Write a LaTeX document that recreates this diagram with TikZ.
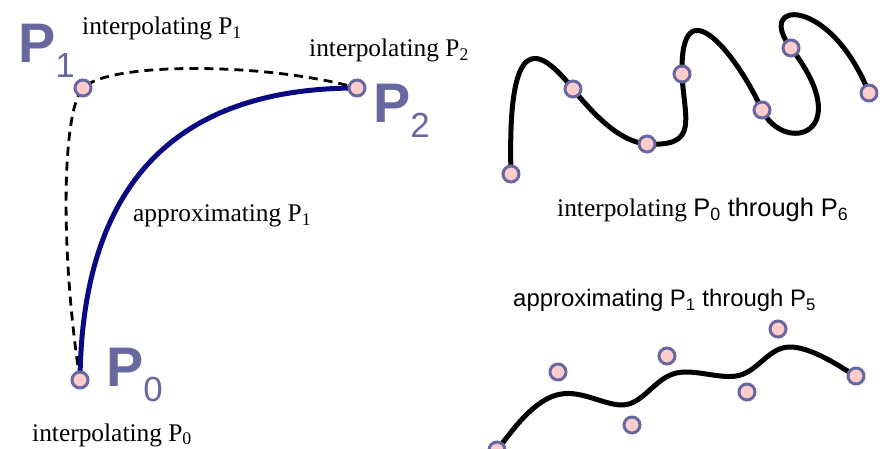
\documentclass[tikz,border=0pt]{standalone}
\usepackage{fontspec}
\setmainfont{Liberation Serif}
\setsansfont{Liberation Sans}
\usetikzlibrary{calc}

\definecolor{slate}{RGB}{104,104,160}
\definecolor{dotpink}{RGB}{255,204,204}
\definecolor{navy}{RGB}{10,10,130}

\newcommand{\bigP}[1]{{\fontsize{56}{56}\selectfont\bfseries P}{\fontsize{35}{35}\selectfont\raisebox{-15bp}{#1}}}

\tikzset{
  dot/.style={circle, draw=slate, fill=dotpink, line width=3bp, minimum size=16bp, inner sep=0pt},
  txt/.style={anchor=base west, inner sep=0pt, font=\fontsize{25.5}{25.5}\selectfont},
  stxt/.style={txt, font=\sffamily\fontsize{24}{24}\selectfont},
  biglbl/.style={anchor=base west, inner sep=0pt, text=slate, font=\sffamily},
  curve/.style={line width=5bp, line cap=round},
}

\begin{document}
\begin{tikzpicture}[x=1bp,y=-1bp]
  \useasboundingbox (0,0) rectangle (885,449);
  % left: three points, dashed through them, blue towards the middle one
  \coordinate (a0) at (80,380);
  \coordinate (a1) at (83,88);
  \coordinate (a2) at (357,88);
  \draw[line width=2.8bp, dash pattern=on 9bp off 6bp] (a0) .. controls (60,250) and (62,110) .. (a1)
    .. controls (110,61) and (270,63) .. (a2);
  \draw[curve, navy] (a0) .. controls ($(a0)!2/3!(a1)$) and ($(a2)!2/3!(a1)$) .. (a2);
  \foreach \i in {0,1,2} \node[dot] (p\i) at (a\i) {};
  \node[biglbl] (n1) at (18,63) {\bigP{1}};
  \node[biglbl] (n2) at (373,123) {\bigP{2}};
  \node[biglbl] (n0) at (106,387) {\bigP{0}};
  \node[txt] (t1) at (82,35) {interpolating P\textsubscript{1}};
  \node[txt] (t2) at (309,57) {interpolating P\textsubscript{2}};
  \node[txt] (t0) at (32,441) {interpolating P\textsubscript{0}};
  \node[txt] (t3) at (133,222) {approximating P\textsubscript{1}};

  % top right: interpolating curve
  \coordinate (b0) at (511,174);
  \coordinate (b1) at (573,89);
  \coordinate (b2) at (647,144);
  \coordinate (b3) at (682,74);
  \coordinate (b4) at (762,110);
  \coordinate (b5) at (791,48);
  \coordinate (b6) at (869,93);
  \draw[curve] (b0) .. controls (507,30) and (538,45) .. (b1)
    .. controls (594,115) and (620,142) .. (b2)
    .. controls (700,147) and (684,119) .. (b3)
    .. controls (680,-20) and (740,60) .. (b4)
    .. controls (784,155) and (858,135) .. (b5)
    .. controls (754,0) and (830,-5) .. (b6);
  \foreach \i in {0,...,6} \node[dot] (q\i) at (b\i) {};
  \node[txt] (t4) at (557,217) {interpolating \sffamily P\textsubscript{0} through P\textsubscript{6}};

  % bottom right: approximating curve
  \coordinate (c0) at (497,450);
  \coordinate (c1) at (558,372);
  \coordinate (c2) at (632,425);
  \coordinate (c3) at (667,356);
  \coordinate (c4) at (747,392);
  \coordinate (c5) at (778,329);
  \coordinate (c6) at (856,376);
  \draw[curve] (c0) -- (507.2,437) .. controls (517.3,424) and (537.7,398) .. (560.2,394.2)
    .. controls (582.7,389.7) and (607.3,407.3) .. (625.5,404.7)
    .. controls (643.7,402) and (655.3,379) .. (674.5,373.5)
    .. controls (693.7,368) and (720.3,380) .. (738.8,375.5)
    .. controls (757.3,371) and (767.7,350) .. (785.8,347.3)
    .. controls (804,344.7) and (830,360.3) .. (843,368.2) -- (c6);
  \foreach \i in {0,...,6} \node[dot] (r\i) at (c\i) {};
  \node[stxt] (t5) at (513,307) {approximating P\textsubscript{1} through P\textsubscript{5}};
\end{tikzpicture}
\end{document}
